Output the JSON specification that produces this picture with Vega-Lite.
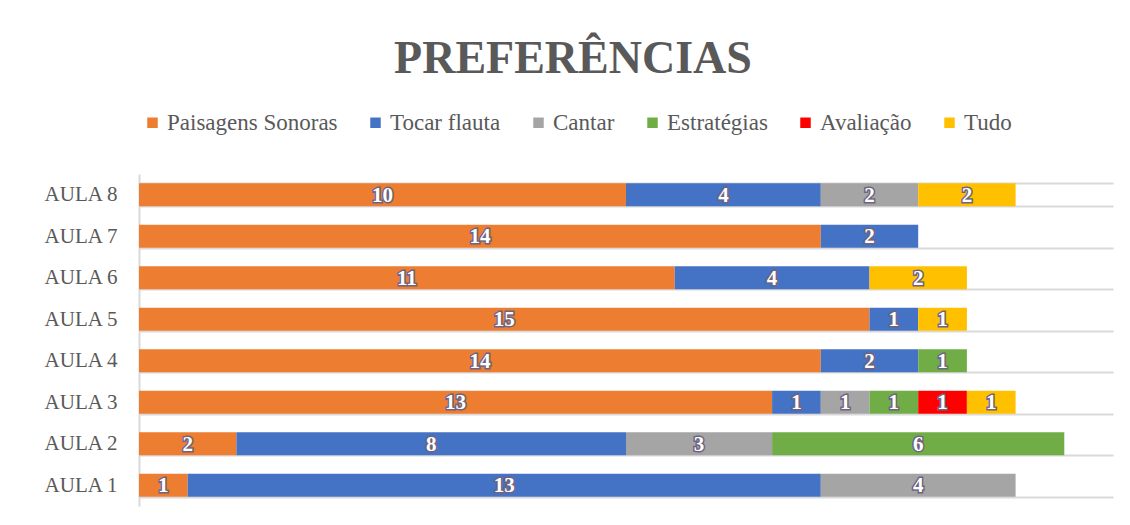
{
  "$schema": "https://vega.github.io/schema/vega-lite/v6.json",
  "width": 974,
  "height": 332,
  "autosize": {"type": "none"},
  "padding": {"left": 139, "top": 174, "right": 17, "bottom": 19},
  "background": "white",
  "config": {"view": {"stroke": null}},
  "title": {
    "text": "PREFERÊNCIAS",
    "font": "Liberation Serif",
    "fontSize": 46,
    "fontWeight": "bold",
    "color": "#595959",
    "anchor": "middle",
    "offset": 28,
    "dx": -53
  },
  "data": {
    "values": [
      {"aula": "AULA 8", "serie": "Paisagens Sonoras", "k": 1, "v": 10},
      {"aula": "AULA 8", "serie": "Tocar flauta", "k": 2, "v": 4},
      {"aula": "AULA 8", "serie": "Cantar", "k": 3, "v": 2},
      {"aula": "AULA 8", "serie": "Tudo", "k": 6, "v": 2},
      {"aula": "AULA 7", "serie": "Paisagens Sonoras", "k": 1, "v": 14},
      {"aula": "AULA 7", "serie": "Tocar flauta", "k": 2, "v": 2},
      {"aula": "AULA 6", "serie": "Paisagens Sonoras", "k": 1, "v": 11},
      {"aula": "AULA 6", "serie": "Tocar flauta", "k": 2, "v": 4},
      {"aula": "AULA 6", "serie": "Tudo", "k": 6, "v": 2},
      {"aula": "AULA 5", "serie": "Paisagens Sonoras", "k": 1, "v": 15},
      {"aula": "AULA 5", "serie": "Tocar flauta", "k": 2, "v": 1},
      {"aula": "AULA 5", "serie": "Tudo", "k": 6, "v": 1},
      {"aula": "AULA 4", "serie": "Paisagens Sonoras", "k": 1, "v": 14},
      {"aula": "AULA 4", "serie": "Tocar flauta", "k": 2, "v": 2},
      {"aula": "AULA 4", "serie": "Estratégias", "k": 4, "v": 1},
      {"aula": "AULA 3", "serie": "Paisagens Sonoras", "k": 1, "v": 13},
      {"aula": "AULA 3", "serie": "Tocar flauta", "k": 2, "v": 1},
      {"aula": "AULA 3", "serie": "Cantar", "k": 3, "v": 1},
      {"aula": "AULA 3", "serie": "Estratégias", "k": 4, "v": 1},
      {"aula": "AULA 3", "serie": "Avaliação", "k": 5, "v": 1},
      {"aula": "AULA 3", "serie": "Tudo", "k": 6, "v": 1},
      {"aula": "AULA 2", "serie": "Paisagens Sonoras", "k": 1, "v": 2},
      {"aula": "AULA 2", "serie": "Tocar flauta", "k": 2, "v": 8},
      {"aula": "AULA 2", "serie": "Cantar", "k": 3, "v": 3},
      {"aula": "AULA 2", "serie": "Estratégias", "k": 4, "v": 6},
      {"aula": "AULA 1", "serie": "Paisagens Sonoras", "k": 1, "v": 1},
      {"aula": "AULA 1", "serie": "Tocar flauta", "k": 2, "v": 13},
      {"aula": "AULA 1", "serie": "Cantar", "k": 3, "v": 4}
    ]
  },
  "transform": [
    {"stack": "v", "groupby": ["aula"], "sort": [{"field": "k", "order": "ascending"}], "as": ["x0", "x1"]},
    {"calculate": "(datum.x0 + datum.x1) / 2", "as": "mid"}
  ],
  "encoding": {
    "y": {
      "field": "aula",
      "type": "nominal",
      "sort": ["AULA 8", "AULA 7", "AULA 6", "AULA 5", "AULA 4", "AULA 3", "AULA 2", "AULA 1"],
      "scale": {"paddingInner": 0.44, "paddingOuter": 0.22},
      "axis": {
        "title": null,
        "ticks": false,
        "tickBand": "extent",
        "grid": true,
        "gridColor": "#d9d9d9",
        "gridWidth": 2,
        "domain": true,
        "domainColor": "#d9d9d9",
        "domainWidth": 2,
        "labelFont": "Liberation Serif",
        "labelFontSize": 21,
        "labelColor": "#595959",
        "labelPadding": 22
      }
    }
  },
  "layer": [
    {
      "mark": {"type": "bar"},
      "encoding": {
        "x": {"field": "x0", "type": "quantitative", "scale": {"domain": [0, 20], "nice": false}, "axis": null},
        "x2": {"field": "x1"},
        "color": {
          "field": "serie",
          "type": "nominal",
          "scale": {
            "domain": ["Paisagens Sonoras", "Tocar flauta", "Cantar", "Estratégias", "Avaliação", "Tudo"],
            "range": ["#ED7D31", "#4472C4", "#A5A5A5", "#70AD47", "#FF0000", "#FFC000"]
          },
          "legend": {
            "title": null,
            "orient": "none",
            "direction": "horizontal",
            "legendX": 2,
            "legendY": -63,
            "symbolType": "square",
            "symbolSize": 110,
            "symbolStrokeWidth": 0,
            "labelFont": "Liberation Serif",
            "labelFontSize": 23,
            "labelColor": "#595959",
            "labelOffset": 3,
            "columnPadding": 26,
            "labelLimit": 400
          }
        }
      }
    },
    {
      "mark": {"type": "text", "font": "Liberation Serif", "fontSize": 21, "fontWeight": "bold", "stroke": "#6e6480", "strokeWidth": 3, "fill": "#6e6480", "baseline": "middle", "dy": 1},
      "encoding": {
        "x": {"field": "mid", "type": "quantitative"},
        "text": {"field": "v", "type": "quantitative"}
      }
    },
    {
      "mark": {"type": "text", "font": "Liberation Serif", "fontSize": 21, "fontWeight": "bold", "fill": "white", "baseline": "middle", "dy": 1},
      "encoding": {
        "x": {"field": "mid", "type": "quantitative"},
        "text": {"field": "v", "type": "quantitative"}
      }
    }
  ]
}
